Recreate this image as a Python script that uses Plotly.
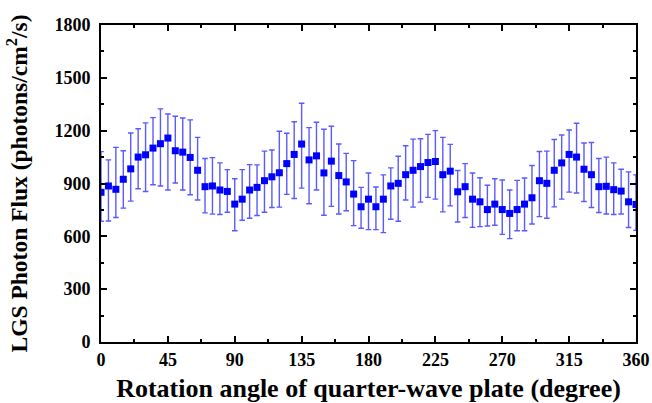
import plotly.graph_objects as go

# Rotation angle of the quarter-wave plate (degrees)
angle = list(range(0, 361, 5))

# Mean LGS photon flux (photons/cm^2/s)
flux = [850, 886, 867, 924, 983, 1050, 1063, 1101, 1126, 1158,
        1086, 1078, 1048, 975, 882, 886, 863, 855, 783, 811,
        863, 878, 916, 938, 961, 1013, 1065, 1124, 1034, 1057,
        960, 1027, 945, 909, 840, 768, 811, 768, 811, 886,
        901, 950, 975, 996, 1019, 1025, 950, 970, 853, 882,
        811, 796, 752, 783, 752, 730, 752, 783, 819, 916,
        901, 975, 1017, 1065, 1050, 981, 950, 882, 884, 865,
        857, 796, 781]

# Upper and lower ends of the error bars
flux_upper = [1081, 1034, 1105, 1086, 1187, 1211, 1244, 1274, 1324, 1295,
              1282, 1272, 1261, 1162, 1042, 1047, 1017, 979, 927, 979,
              1007, 1006, 1084, 1090, 1197, 1185, 1251, 1356, 1217, 1248,
              1208, 1225, 1124, 1071, 1030, 878, 960, 880, 949, 989,
              1055, 1114, 1152, 1154, 1179, 1200, 1162, 1122, 974, 1013,
              960, 933, 890, 927, 920, 863, 918, 931, 1002, 1082,
              1084, 1150, 1175, 1204, 1242, 1130, 1133, 1042, 1050, 1017,
              981, 966, 949]
flux_lower = [686, 687, 707, 760, 800, 870, 855, 893, 886, 863,
              903, 863, 836, 806, 733, 726, 724, 737, 632, 691,
              703, 718, 737, 764, 766, 838, 815, 874, 785, 863,
              720, 770, 727, 745, 661, 646, 638, 638, 621, 697,
              686, 806, 766, 794, 821, 811, 739, 773, 681, 707,
              651, 655, 659, 663, 611, 587, 632, 632, 670, 712,
              703, 767, 811, 851, 846, 798, 764, 735, 727, 724,
              727, 650, 634]

x_ticks = [0, 45, 90, 135, 180, 225, 270, 315, 360]
y_ticks = [0, 300, 600, 900, 1200, 1500, 1800]

err_plus = [u - f for u, f in zip(flux_upper, flux)]
err_minus = [f - l for f, l in zip(flux, flux_lower)]

FONT = "Liberation Serif"

fig = go.Figure()
fig.add_trace(go.Scatter(
    x=angle, y=flux, mode="markers",
    marker=dict(symbol="square", size=7, color="#0000ff", line=dict(width=0)),
    error_y=dict(type="data", symmetric=False, array=err_plus, arrayminus=err_minus,
                 color="#5a5aff", thickness=1.4, width=2.8),
    showlegend=False,
))

axis_common = dict(
    showline=True, linecolor="black", linewidth=2, mirror="ticks",
    ticks="inside", ticklen=6, tickwidth=1.5, tickcolor="black",
    showgrid=False, zeroline=False, automargin=False,
    tickfont=dict(family=FONT, size=18, color="black", weight="bold"),
)

fig.update_xaxes(
    range=[0, 360], tickmode="array", tickvals=x_ticks,
    ticktext=[str(v) for v in x_ticks],
    minor=dict(ticks="inside", ticklen=3, tickwidth=1.5, tickcolor="black",
               dtick=22.5, tick0=0),
    title=dict(text="Rotation angle of quarter-wave plate (degree)",
               font=dict(family=FONT, size=26, color="black", weight="bold"),
               standoff=10),
    **axis_common,
)
fig.update_yaxes(
    range=[0, 1800], tickmode="array", tickvals=y_ticks,
    ticktext=[str(v) for v in y_ticks],
    ticklabelstandoff=5,
    minor=dict(ticks="inside", ticklen=3, tickwidth=1.5, tickcolor="black",
               dtick=150, tick0=0),
    title=dict(text="LGS Photon Flux (photons/cm<sup>2</sup>/s)",
               font=dict(family=FONT, size=23.5, color="black", weight="bold"),
               standoff=20),
    **axis_common,
)

fig.update_layout(
    width=652, height=403,
    margin=dict(l=101, r=16, t=25, b=61),
    plot_bgcolor="white", paper_bgcolor="white",
)

fig.write_html("out.html")
